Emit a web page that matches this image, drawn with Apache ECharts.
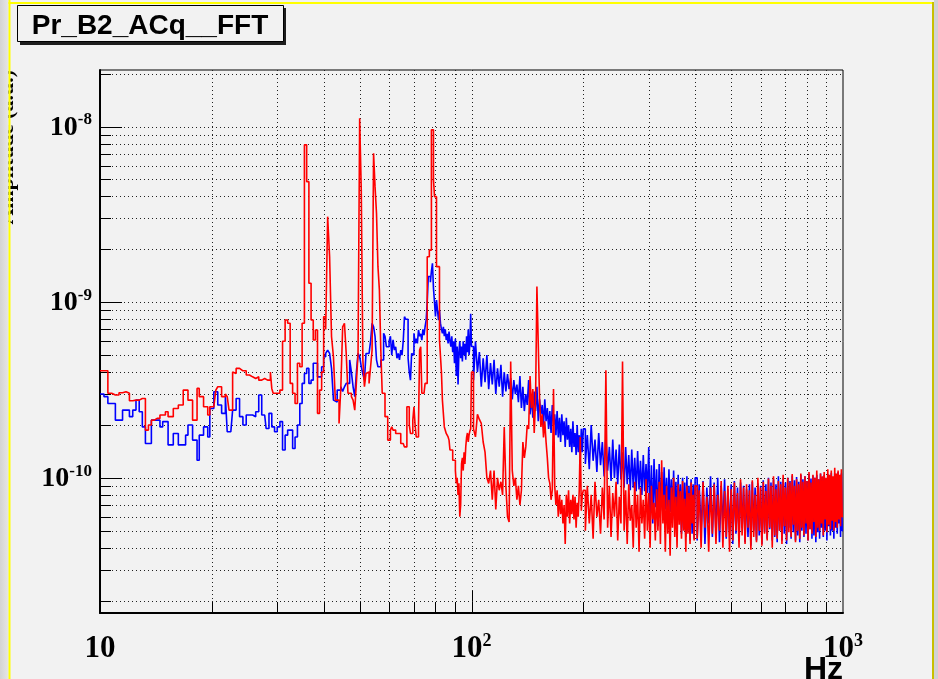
<!DOCTYPE html>
<html><head><meta charset="utf-8">
<script src="https://cdn.jsdelivr.net/npm/echarts/dist/echarts.min.js"></script>
<style>html,body{margin:0;padding:0;background:#f2f2f2;}#c{width:938px;height:679px;}</style>
</head><body><div id="c"></div>
<script>
// ---------- texts ----------
const TITLE = 'Pr_B2_ACq__FFT';
const X_UNIT_NAME = 'Hz';
const Y_AXIS_NAME = 'Amplitude (a.u.)';

// ---------- axis ranges & ticks ----------
const X_MIN = 10, X_MAX = 1000;
const Y_MIN = 1.7e-11, Y_MAX = 2.1e-8;
const X_TICKS = [20,30,40,50,60,70,80,90,100,200,300,400,500,600,700,800,900];
const Y_TICKS = [2e-11,3e-11,4e-11,5e-11,6e-11,7e-11,8e-11,9e-11,1e-10,
                 2e-10,3e-10,4e-10,5e-10,6e-10,7e-10,8e-10,9e-10,1e-9,
                 2e-9,3e-9,4e-9,5e-9,6e-9,7e-9,8e-9,9e-9,1e-8,2e-8];

// ---------- histogram binning (Hz): segment start and bin width ----------
const BIN_START = [10, 30, 100, 200, 400];
const BIN_WIDTH = [0.25, 0.5, 1.25, 2.5, 5];
const VALUE_UNIT = 1e-12; // values below are in units of 1e-12

// ---------- red series ----------
const RED_A = [407,407,303,296,296,305,309,303,275,277,
 277,283,283,187,200,213,218,218,228,228,
 238,223,223,248,248,260,260,316,316,277,
 277,213,213,323,290,290,254,254,228,254,
 254,254,316,330,330,290,290,300,290,243,
 243,400,393,420,420,410,407,407,407,385,
 385,385,376,376,368,376,376,360,360,360,
 368,368,360,360,360,400,323,303,303,303];
const RED_B = [303,316,600,792,759,345,303,265,449,429,
 759,7870,4860,1282,792,609,695,233,316,400,
 827,700,3070,1815,636,489,277,277,204,330,
 725,759,511,303,303,290,277,243,350,511,
 11170,4360,469,330,393,400,345,429,534,7050,
 4550,3210,1594,1175,534,303,303,223,223,164,
 164,187,195,187,187,179,179,175,179,157,
 157,157,150,150,254,254,200,179,179,213,
 254,200,171,171,200,534,558,303,303,303,
 345,345,1815,1815,1980,1980,9580,9580,5000,3990,
 3990,1594,1594,1594,609,609,400,277,277,195,
 195,179,179,171,164,144,144,144,126,126,
 126,110,93,100,80,93,60,70,120,130,
 110,140,120,150,170,180,160,175,185,190];
const RED_C = [400,190,171,230,215,204,160,140,100,93,
 110,75,110,66,100,85,95,80,195,90,
 60,56,460,110,90,100,75,90,70,85,
 160,130,150,200,190,380,250,320,180,280,
 1230,580,277,195,230,170,210,160,130,100,
 93,75,85,320,90,70,85,60,80,62,
 75,55,70,42,80,60,85,55,75,62,
 80,58,78,52,72,60,85,171,65,80];
const RED_D = [85,50,90,55,80,45,95,60,75,48,
 88,58,410,52,90,46,82,60,95,44,
 78,55,460,50,85,42,92,57,70,40,
 95,52,80,38,88,55,75,45,98,50,
 82,40,90,58,72,44,86,50,95,42,
 126,55,80,38,90,48,75,36,88,52,
 100,46,78,40,92,54,84,45,96,50,
 76,38,90,48,82,42,94,55,80,44];
const RED_E = [90,45,85,40,95,52,78,38,88,48,
 92,42,80,50,96,40,84,46,90,38,
 86,44,94,50,82,40,98,47,88,42,
 92,52,85,39,97,46,80,43,100,50,
 88,41,95,48,84,44,99,52,90,40,
 102,47,86,45,96,50,92,42,104,53,
 88,44,100,49,94,46,105,54,90,43,
 98,50,92,45,106,52,95,47,102,55,
 96,44,108,51,94,48,104,56,100,46,
 110,52,98,50,106,55,102,47,108,58,
 100,49,112,54,104,51,110,57,102,50,
 114,56,106,52,110,58,104,53,112,60];

// ---------- blue series ----------
const BLUE_A = [300,290,265,265,213,213,243,243,223,243,
 277,238,195,157,157,213,213,213,195,209,
 209,154,154,179,179,154,154,154,175,200,
 200,164,164,126,175,175,195,195,171,248,
 248,309,309,260,260,233,233,290,183,183,
 183,243,243,283,283,223,223,200,200,228,
 228,228,228,223,223,238,238,296,296,228,
 228,228,191,191,233,233,195,195,183,183];
const BLUE_B = [195,209,144,175,187,187,147,171,200,265,
 345,393,420,345,360,449,449,376,376,429,
 489,511,534,511,420,277,270,316,316,330,
 310,330,345,345,469,400,330,290,400,511,
 490,430,390,360,511,511,500,600,759,725,
 640,470,429,429,469,469,665,640,558,558,
 600,640,500,610,534,558,480,511,469,534,
 500,600,827,800,800,480,400,360,511,500,
 665,583,620,583,695,640,660,609,700,650,
 725,790,1000,1400,1400,1300,1500,1665,1200,1000,
 830,1030,900,790,900,760,700,665,725,640,
 700,609,660,583,680,600,558,640,520,600,
 450,620,380,560,340,520,600,480,560,460,
 600,500,580,470,640,520,700,500,580,860];
const BLUE_C = [560,360,600,400,520,330,480,350,500,320,
 450,340,470,300,420,330,440,290,400,310,
 390,320,370,280,360,300,340,270,380,250,
 330,240,300,260,360,230,290,220,310,240,
 330,210,280,230,260,200,280,210,250,190,
 240,180,260,200,230,175,240,170,220,160,
 230,175,210,150,220,165,200,150,190,140,
 210,150,180,135,200,140,175,130,190,140];
const BLUE_D = [190,120,175,112,200,125,165,108,180,118,
 160,102,170,110,150,96,165,100,145,92,
 155,98,140,88,150,92,135,85,145,88,
 130,84,142,86,125,80,135,84,120,82,
 150,60,118,55,128,68,112,53,120,65,
 108,62,115,66,100,60,112,64,98,58,
 110,62,95,56,104,60,92,48,100,52,
 94,46,102,50,90,44,98,48,92,45];
const BLUE_E = [100,44,92,50,96,42,88,55,102,46,
 94,48,100,43,90,52,98,45,86,50,
 92,42,96,48,88,44,94,52,90,43,
 86,46,92,41,95,50,88,44,93,47,
 90,42,97,49,92,45,100,51,94,44,
 98,46,92,43,102,50,95,44,99,48,
 94,42,100,52,96,45,103,49,97,44,
 101,47,95,43,104,50,98,46,102,48,
 96,44,105,51,99,45,103,47,100,43,
 104,49,98,45,106,52,101,46,104,50,
 99,44,105,53,102,47,107,50,100,45,
 106,52,103,48,108,55,102,46,106,50];

function buildSteps(parts) {
  const out = [];
  parts.forEach((vals, s) => {
    vals.forEach((v, i) => out.push([BIN_START[s] + BIN_WIDTH[s] * i, v * VALUE_UNIT]));
  });
  const last = parts[parts.length - 1];
  out.push([X_MAX, last[last.length - 1] * VALUE_UNIT]);
  return out;
}
const redData = buildSteps([RED_A, RED_B, RED_C, RED_D, RED_E]);
const blueData = buildSteps([BLUE_A, BLUE_B, BLUE_C, BLUE_D, BLUE_E]);

function isMajor(v) { const l = Math.log10(v); return Math.abs(l - Math.round(l)) < 1e-9; }

function renderV(params, api) {
  const cs = params.coordSys;
  const v = api.value(0);
  const p = api.coord([v, Y_MIN]);
  const x = Math.round(p[0]) + 0.5;
  const len = isMajor(v) ? 22 : 11;
  const yb = cs.y + cs.height;
  return { type: 'group', children: [
    { type: 'line', shape: { x1: x, y1: cs.y, x2: x, y2: yb }, style: { stroke: '#222', lineWidth: 1, lineDash: [1, 3] } },
    { type: 'line', shape: { x1: x, y1: yb, x2: x, y2: yb - len }, style: { stroke: '#000', lineWidth: 1 } }
  ]};
}
function renderH(params, api) {
  const cs = params.coordSys;
  const v = api.value(1);
  const p = api.coord([X_MIN, v]);
  const y = Math.round(p[1]) + 0.5;
  const len = isMajor(v) ? 22 : 11;
  return { type: 'group', children: [
    { type: 'line', shape: { x1: cs.x, y1: y, x2: cs.x + cs.width, y2: y }, style: { stroke: '#222', lineWidth: 1, lineDash: [1, 3] } },
    { type: 'line', shape: { x1: cs.x, y1: y, x2: cs.x + len, y2: y }, style: { stroke: '#000', lineWidth: 1 } }
  ]};
}

const SERIF = '"Liberation Serif", "Times New Roman", serif';
const SANS = '"Liberation Sans", Arial, sans-serif';

const chart = echarts.init(document.getElementById('c'), null, { renderer: 'canvas' });
chart.setOption({
  backgroundColor: '#f2f2f2',
  animation: false,
  grid: { left: 100, right: 95, top: 70, bottom: 66, show: true, borderColor: '#000', borderWidth: 1,
          backgroundColor: 'transparent', containLabel: false, outerBoundsMode: 'none' },
  xAxis: {
    type: 'log', logBase: 10, min: X_MIN, max: X_MAX,
    axisLine: { show: true, onZero: false, lineStyle: { color: '#000', width: 2 } },
    axisTick: { show: false }, splitLine: { show: false }, minorTick: { show: false },
    axisLabel: {
      margin: 19, color: '#000',
      formatter: function (v) { const e = Math.round(Math.log10(v)); if (!isMajor(v)) return ''; return e === 1 ? '{b|10}' : '{b|10}{s|' + e + '}'; },
      rich: {
        b: { fontFamily: SERIF, fontWeight: 'bold', fontSize: 31, lineHeight: 32, verticalAlign: 'bottom', color: '#000' },
        s: { fontFamily: SERIF, fontWeight: 'bold', fontSize: 18, lineHeight: 18, verticalAlign: 'top', color: '#000' }
      }
    }
  },
  yAxis: {
    type: 'log', logBase: 10, min: Y_MIN, max: Y_MAX,
    axisLine: { show: true, onZero: false, lineStyle: { color: '#000', width: 2 } },
    axisTick: { show: false }, splitLine: { show: false }, minorTick: { show: false },
    axisLabel: {
      margin: 8, color: '#000',
      formatter: function (v) { if (!isMajor(v)) return ''; const e = Math.round(Math.log10(v)); return '{b|10}{s|' + e + '}'; },
      rich: {
        b: { fontFamily: SERIF, fontWeight: 'bold', fontSize: 28, lineHeight: 30, verticalAlign: 'bottom', color: '#000' },
        s: { fontFamily: SERIF, fontWeight: 'bold', fontSize: 17, lineHeight: 17, verticalAlign: 'top', color: '#000' }
      }
    }
  },
  series: [
    { type: 'custom', name: 'xgrid', renderItem: renderV, data: X_TICKS.map(v => [v, Y_MIN]), encode: { x: 0, y: 1 }, silent: true, z: 1, clip: false },
    { type: 'custom', name: 'ygrid', renderItem: renderH, data: Y_TICKS.map(v => [X_MIN, v]), encode: { x: 0, y: 1 }, silent: true, z: 1, clip: false },
    { type: 'line', name: 'blue', data: blueData, step: 'end', symbol: 'none', showSymbol: false,
      lineStyle: { color: '#0000ff', width: 1.6 }, itemStyle: { color: '#0000ff' }, z: 3, silent: true },
    { type: 'line', name: 'red', data: redData, step: 'end', symbol: 'none', showSymbol: false,
      lineStyle: { color: '#ff0000', width: 1.6 }, itemStyle: { color: '#ff0000' }, z: 4, silent: true }
  ],
  graphic: [
    // y-axis title, mostly outside the pad
    { type: 'text', x: 18, y: 70, rotation: Math.PI / 2, z: 1,
      style: { text: Y_AXIS_NAME, font: 'bold 22px ' + SERIF, fill: '#000', align: 'right', textAlign: 'right', verticalAlign: 'bottom', textVerticalAlign: 'bottom' } },
    // pad decorations
    { type: 'rect', shape: { x: 0, y: 0, width: 8.5, height: 679 }, z: 10,
      style: { fill: new echarts.graphic.LinearGradient(0, 0, 1, 0, [{ offset: 0, color: '#d4d4d4' }, { offset: 1, color: '#e6e6e6' }]) } },
    { type: 'rect', shape: { x: 934, y: 0, width: 4, height: 679 }, z: 10, style: { fill: '#d2d2d2' } },
    { type: 'rect', shape: { x: 8.5, y: 0, width: 2, height: 679 }, z: 11, style: { fill: '#ffff00' } },
    { type: 'rect', shape: { x: 8.5, y: 2, width: 925, height: 2 }, z: 11, style: { fill: '#ffff00' } },
    { type: 'rect', shape: { x: 932, y: 2, width: 2, height: 677 }, z: 11, style: { fill: '#c8c000' } },
    // title box
    { type: 'rect', shape: { x: 20, y: 8, width: 266, height: 37 }, z: 12, style: { fill: '#1e1e1e' } },
    { type: 'rect', shape: { x: 17.5, y: 5.5, width: 266, height: 36 }, z: 13, style: { fill: '#f2f2f2', stroke: '#000', lineWidth: 1 } },
    { type: 'text', x: 150, y: 26, z: 14,
      style: { text: TITLE, font: 'bold 28px ' + SANS, fill: '#000', align: 'center', textAlign: 'center', verticalAlign: 'middle', textVerticalAlign: 'middle' } },
    // x unit
    { type: 'text', x: 843, y: 654, z: 14,
      style: { text: X_UNIT_NAME, font: 'bold 32px ' + SANS, fill: '#000', align: 'right', textAlign: 'right', verticalAlign: 'top', textVerticalAlign: 'top' } }
  ]
});
</script></body></html>
